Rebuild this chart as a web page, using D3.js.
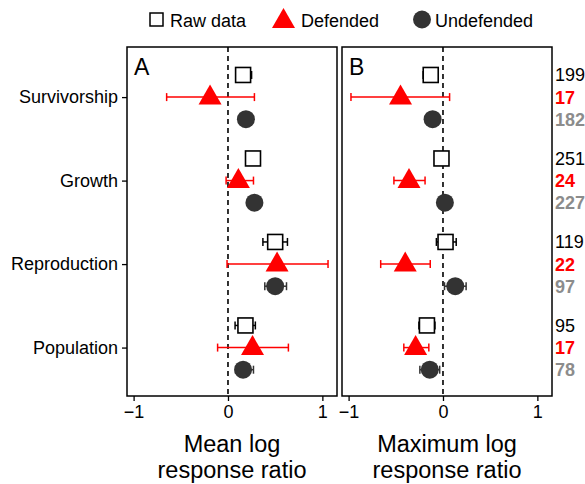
<!DOCTYPE html>
<html><head><meta charset="utf-8">
<script src="https://cdn.jsdelivr.net/npm/d3@7/dist/d3.min.js"></script>
<style>body{margin:0;background:#fff}svg{display:block;font-family:"Liberation Sans",Arial,sans-serif}</style>
</head><body><svg id="c" width="585" height="484"></svg>
<script>
const categories = ["Survivorship","Growth","Reproduction","Population"];
const xTicks = [-1, 0, 1];
const panelLabels = ["A","B"];
const panelTitles = [["Mean log","response ratio"],["Maximum log","response ratio"]];
// [mean, lower, upper] per category
const rawA = [[0.16,0.09,0.25],[0.265,0.24,0.29],[0.50,0.37,0.63],[0.185,0.075,0.29]];
const defA = [[-0.19,-0.65,0.28],[0.11,-0.02,0.27],[0.52,-0.01,1.06],[0.26,-0.11,0.64]];
const undA = [[0.19,0.16,0.22],[0.28,0.25,0.31],[0.50,0.39,0.62],[0.16,0.08,0.27]];
const rawB = [[-0.13,-0.21,-0.055],[-0.016,-0.04,0.01],[0.027,-0.07,0.14],[-0.17,-0.255,-0.085]];
const defB = [[-0.45,-0.975,0.07],[-0.36,-0.52,-0.19],[-0.40,-0.66,-0.135],[-0.29,-0.415,-0.15]];
const undB = [[-0.11,-0.13,-0.09],[0.02,0.0,0.04],[0.13,0.016,0.245],[-0.14,-0.245,-0.035]];
const nRaw = [199,251,119,95];
const nDef = [17,24,22,17];
const nUnd = [182,227,97,78];

(function(){
const svg = d3.select("#c");
const RED = "#ff0000", DARK = "#333333", GRAY = "#8c8c8c";
const yTop = 47, yBot = 396;
const panels = [{x0:127,x1:337,raw:rawA,def:defA,und:undA},{x0:342,x1:552,raw:rawB,def:defB,und:undB}];
const y = d3.scaleLinear().domain([0.42,4.6]).range([yBot, yTop]);
const catPos = d3.scaleOrdinal().domain(categories).range([4,3,2,1]);
const off = 0.265;

function triPath(cx, cy){
  return `M${cx},${cy-12.5}L${cx+11.5},${cy+7.5}L${cx-11.5},${cy+7.5}Z`;
}
function errbar(g, x, lo, hi, yy, color){
  g.append("line").attr("x1",x(lo)).attr("x2",x(hi)).attr("y1",yy).attr("y2",yy).attr("stroke",color).attr("stroke-width",1.5);
  [lo,hi].forEach(v=>g.append("line").attr("x1",x(v)).attr("x2",x(v)).attr("y1",yy-4).attr("y2",yy+4).attr("stroke",color).attr("stroke-width",1.5));
}

panels.forEach((p,pi)=>{
  const x = d3.scaleLinear().domain([-1.07,1.155]).range([p.x0,p.x1]);
  const g = svg.append("g");
  g.append("line").attr("x1",x(0)).attr("x2",x(0)).attr("y1",yTop).attr("y2",yBot)
    .attr("stroke","#000").attr("stroke-width",1.6).attr("stroke-dasharray","5,4");
  categories.forEach((c,i)=>{
    const yc = y(catPos(c));
    const yr = y(catPos(c)+off), yu = y(catPos(c)-off);
    const r = p.raw[i], d = p.def[i], u = p.und[i];
    errbar(g, x, r[1], r[2], yr, "#000");
    g.append("rect").attr("x",x(r[0])-7.5).attr("y",yr-7.5).attr("width",15).attr("height",15)
      .attr("fill","#fff").attr("stroke","#000").attr("stroke-width",1.6);
    errbar(g, x, d[1], d[2], yc, RED);
    g.append("path").attr("d",triPath(x(d[0]),yc)).attr("fill",RED);
    errbar(g, x, u[1], u[2], yu, DARK);
    g.append("circle").attr("cx",x(u[0])).attr("cy",yu).attr("r",9).attr("fill",DARK);
  });
  g.append("rect").attr("x",p.x0).attr("y",yTop).attr("width",p.x1-p.x0).attr("height",yBot-yTop)
    .attr("fill","none").attr("stroke","#000").attr("stroke-width",1.5);
  const ax = svg.append("g").attr("transform",`translate(0,${yBot})`)
    .call(d3.axisBottom(x).tickValues(xTicks).tickSize(5).tickPadding(4).tickFormat(d=>d<0?"\u2212"+Math.abs(d):String(d)));
  ax.select(".domain").remove();
  ax.selectAll("line").attr("stroke-width",1.3);
  ax.selectAll("text").attr("font-size",18).attr("font-family","Liberation Sans, Arial, sans-serif").attr("fill","#000");
  svg.append("text").attr("x",p.x0+7).attr("y",yTop+28).attr("font-size",23).text(panelLabels[pi]);
  const cx = (p.x0+p.x1)/2;
  panelTitles[pi].forEach((t,k)=>svg.append("text").attr("x",cx).attr("y",452+k*26)
    .attr("text-anchor","middle").attr("font-size",23.5).text(t));
});

const ya = svg.append("g").attr("transform","translate(127,0)")
  .call(d3.axisLeft(y).tickValues(categories.map(c=>catPos(c))).tickSize(5).tickPadding(4)
    .tickFormat((d,i)=>categories[i]));
ya.select(".domain").remove();
ya.selectAll("line").attr("stroke-width",1.3);
ya.selectAll("text").attr("font-size",18).attr("font-family","Liberation Sans, Arial, sans-serif").attr("fill","#000");

categories.forEach((c,i)=>{
  const rows = [[nRaw[i],off,"#000","normal"],[nDef[i],0,RED,"bold"],[nUnd[i],-off,GRAY,"bold"]];
  rows.forEach(rw=>svg.append("text").attr("x",555).attr("y",y(catPos(c)+rw[1])+6.5)
    .attr("font-size",18).attr("fill",rw[2]).attr("font-weight",rw[3]).text(rw[0]));
});

const lg = svg.append("g");
lg.append("rect").attr("x",150).attr("y",13).attr("width",13).attr("height",13).attr("fill","#fff").attr("stroke","#000").attr("stroke-width",1.5);
lg.append("text").attr("x",170).attr("y",26.5).attr("font-size",18).text("Raw data");
lg.append("path").attr("d",triPath(283.5,20.5)).attr("fill",RED);
lg.append("text").attr("x",301).attr("y",26.5).attr("font-size",18).text("Defended");
lg.append("circle").attr("cx",422).attr("cy",19.5).attr("r",9).attr("fill",DARK);
lg.append("text").attr("x",435).attr("y",26.5).attr("font-size",18).text("Undefended");
})();
</script></body></html>
